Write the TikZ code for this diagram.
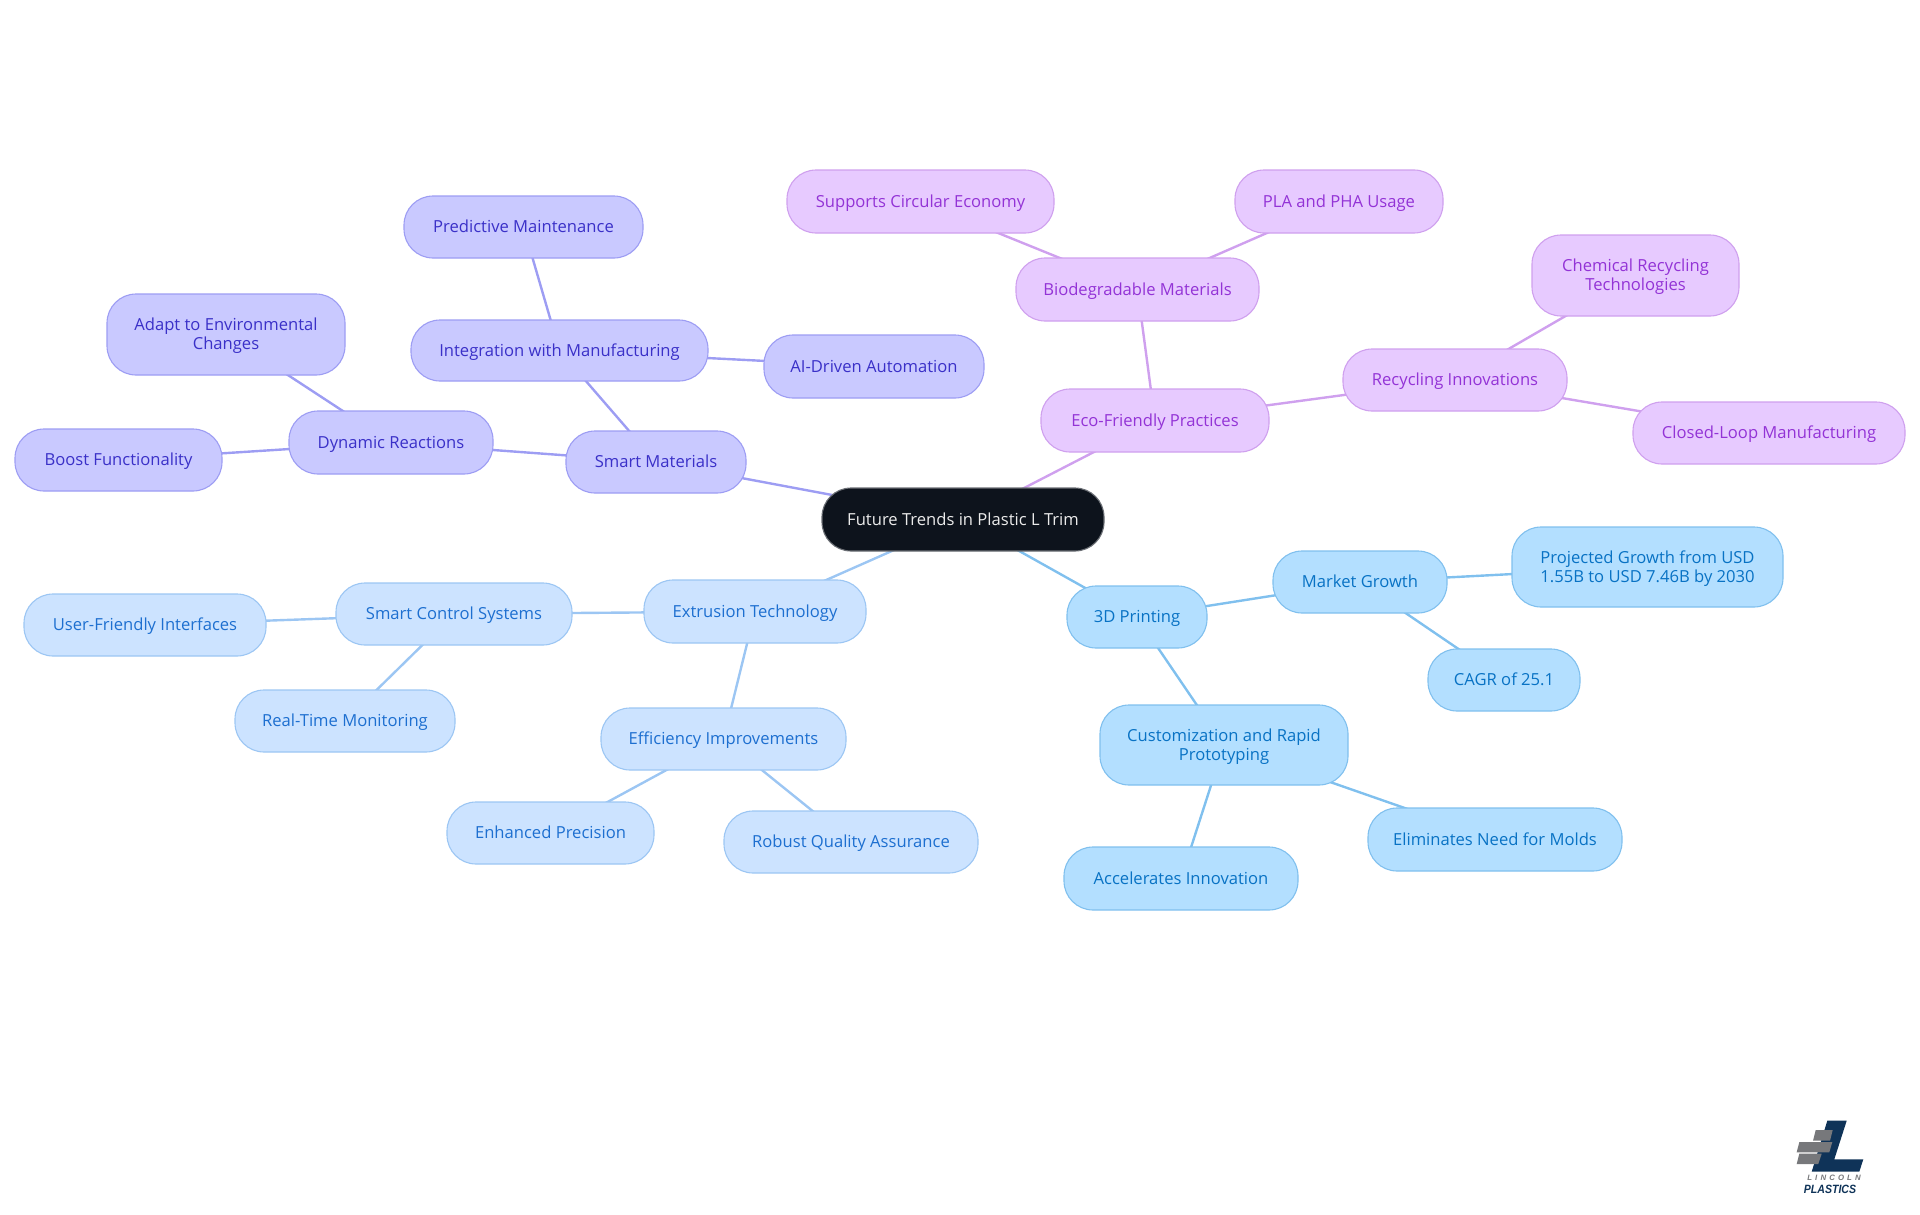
\documentclass[tikz,border=0pt]{standalone}
\usepackage{fontspec}
\setmainfont{Open Sans}
\newfontfamily\logofont[FakeStretch=0.88]{Liberation Sans}
\newfontfamily\logowide[LetterSpace=40]{Liberation Sans}
\usetikzlibrary{backgrounds}
\definecolor{rootfill}{HTML}{0D131C}
\definecolor{rootline}{HTML}{6B6F75}
\definecolor{purfill}{HTML}{E7CAFF}
\definecolor{purline}{HTML}{CFA0EE}
\definecolor{purtext}{HTML}{9333D6}
\definecolor{indfill}{HTML}{C9C9FF}
\definecolor{indline}{HTML}{9D9DF3}
\definecolor{indtext}{HTML}{3A30C8}
\definecolor{blufill}{HTML}{CCE3FF}
\definecolor{bluline}{HTML}{9CC6F3}
\definecolor{blutext}{HTML}{1D6FD0}
\definecolor{skyfill}{HTML}{B3DFFF}
\definecolor{skyline}{HTML}{80C0EE}
\definecolor{skytext}{HTML}{0872C4}
\definecolor{logonavy}{HTML}{0F3358}
\definecolor{logogrey}{HTML}{77787B}
\tikzset{
 x=1pt,y=-1pt,
 box/.style={rectangle,rounded corners=29pt,inner sep=0pt,line width=1.1pt,align=center,
   font=\fontsize{16.6}{19}\selectfont},
 rootbox/.style={box,fill=rootfill,draw=rootline,text=white!92!black},
 purbox/.style={box,fill=purfill,draw=purline,text=purtext},
 indbox/.style={box,fill=indfill,draw=indline,text=indtext},
 blubox/.style={box,fill=blufill,draw=bluline,text=blutext},
 skybox/.style={box,fill=skyfill,draw=skyline,text=skytext},
 link/.style={line width=2.4pt},
 purlink/.style={link,draw=purline},
 indlink/.style={link,draw=indline},
 blulink/.style={link,draw=bluline},
 skylink/.style={link,draw=skyline},
 logotext/.style={inner sep=0pt},
}
\newcommand{\lnstrut}{\rule[-4pt]{0pt}{19pt}}
\newcommand{\bx}[7]{\node[#1,minimum width={(#5)-(#3)},minimum height={(#6)-(#4)}] (#2) at ({((#3)+(#5))/2},{((#4)+(#6))/2}) {\lnstrut #7};}
\begin{document}
\begin{tikzpicture}
\useasboundingbox (0,0) rectangle (1920,1215);
\bx{rootbox}{root}{822}{488}{1104}{551}{Future Trends in Plastic L Trim}
\bx{indbox}{smart}{566}{431}{746}{493}{Smart Materials}
\bx{indbox}{dyn}{289}{411}{493}{474}{Dynamic Reactions}
\bx{indbox}{boost}{15}{429}{222}{491}{Boost Functionality}
\bx{indbox}{adapt}{107}{294}{345}{375}{Adapt to Environmental\\\lnstrut Changes}
\bx{indbox}{integ}{411}{320}{708}{381}{Integration with Manufacturing}
\bx{indbox}{pred}{404}{196}{643}{258}{Predictive Maintenance}
\bx{indbox}{ai}{764}{335}{984}{398}{AI-Driven Automation}
\bx{purbox}{eco}{1041}{389}{1269}{452}{Eco-Friendly Practices}
\bx{purbox}{bio}{1016}{258}{1259}{321}{Biodegradable Materials}
\bx{purbox}{circ}{787}{170}{1054}{233}{Supports Circular Economy}
\bx{purbox}{pla}{1235}{170}{1443}{233}{PLA and PHA Usage}
\bx{purbox}{recy}{1343}{349}{1567}{411}{Recycling Innovations}
\bx{purbox}{chem}{1532}{235}{1739}{316}{Chemical Recycling\\\lnstrut Technologies}
\bx{purbox}{closed}{1633}{402}{1905}{464}{Closed-Loop Manufacturing}
\bx{skybox}{print}{1067}{586}{1207}{648}{3D Printing}
\bx{skybox}{market}{1273}{551}{1447}{613}{Market Growth}
\bx{skybox}{proj}{1512}{527}{1783}{607}{Projected Growth from USD\\\lnstrut 1.55B to USD 7.46B by 2030}
\bx{skybox}{cagr}{1428}{649}{1580}{711}{CAGR of 25.1}
\bx{skybox}{cust}{1100}{705}{1348}{785}{Customization and Rapid\\\lnstrut Prototyping}
\bx{skybox}{elim}{1368}{808}{1622}{871}{Eliminates Need for Molds}
\bx{skybox}{accel}{1064}{847}{1298}{910}{Accelerates Innovation}
\bx{blubox}{extr}{644}{580}{866}{643}{Extrusion Technology}
\bx{blubox}{ctrl}{336}{583}{572}{645}{Smart Control Systems}
\bx{blubox}{user}{24}{594}{266}{656}{User-Friendly Interfaces}
\bx{blubox}{real}{235}{690}{455}{752}{Real-Time Monitoring}
\bx{blubox}{effi}{601}{708}{846}{770}{Efficiency Improvements}
\bx{blubox}{prec}{447}{802}{654}{864}{Enhanced Precision}
\bx{blubox}{qual}{724}{811}{978}{873}{Robust Quality Assurance}
\begin{pgfonlayer}{background}
\draw[indlink] (root.center) -- (smart.center);
\draw[indlink] (smart.center) -- (dyn.center);
\draw[indlink] (dyn.center) -- (boost.center);
\draw[indlink] (dyn.center) -- (adapt.center);
\draw[indlink] (smart.center) -- (integ.center);
\draw[indlink] (integ.center) -- (pred.center);
\draw[indlink] (integ.center) -- (ai.center);
\draw[purlink] (root.center) -- (eco.center);
\draw[purlink] (eco.center) -- (bio.center);
\draw[purlink] (bio.center) -- (circ.center);
\draw[purlink] (bio.center) -- (pla.center);
\draw[purlink] (eco.center) -- (recy.center);
\draw[purlink] (recy.center) -- (chem.center);
\draw[purlink] (recy.center) -- (closed.center);
\draw[skylink] (root.center) -- (print.center);
\draw[skylink] (print.center) -- (market.center);
\draw[skylink] (market.center) -- (proj.center);
\draw[skylink] (market.center) -- (cagr.center);
\draw[skylink] (print.center) -- (cust.center);
\draw[skylink] (cust.center) -- (elim.center);
\draw[skylink] (cust.center) -- (accel.center);
\draw[blulink] (root.center) -- (extr.center);
\draw[blulink] (extr.center) -- (ctrl.center);
\draw[blulink] (ctrl.center) -- (user.center);
\draw[blulink] (ctrl.center) -- (real.center);
\draw[blulink] (extr.center) -- (effi.center);
\draw[blulink] (effi.center) -- (prec.center);
\draw[blulink] (effi.center) -- (qual.center);
\end{pgfonlayer}
% logo
\fill[logonavy] (1827.3,1120.7) -- (1846.7,1120.7) -- (1834.3,1159.3) -- (1863.3,1159.3) -- (1859.3,1171.7) -- (1811.7,1171.7) -- cycle;
\fill[logogrey] (1815.7,1130) -- (1832.7,1130) -- (1830,1140.7) -- (1813,1140.7) -- cycle;
\fill[logogrey] (1799.3,1142) -- (1832.3,1142) -- (1829.3,1152.3) -- (1796.7,1152.3) -- cycle;
\fill[logogrey] (1799.3,1153.7) -- (1821.7,1153.7) -- (1818.3,1164) -- (1796.7,1164) -- cycle;
\node[logotext,text=logogrey,font=\logowide\bfseries\itshape\fontsize{7.8}{8}\selectfont] (lname) at (1834,1177.7) {LINCOLN};
\node[logotext,text=logonavy,font=\logofont\bfseries\itshape\fontsize{12}{13}\selectfont] (pname) at (1830,1189) {PLASTICS};
\end{tikzpicture}
\end{document}
